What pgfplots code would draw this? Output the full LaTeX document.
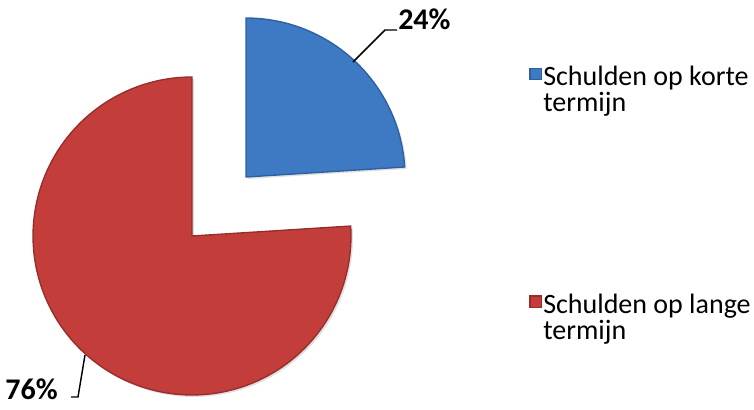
\documentclass[border=0pt]{standalone}
\usepackage{pgfplots}
\pgfplotsset{compat=1.18}
\usepackage{pgfplotstable}
\usepackage{fontspec}
\setmainfont{Carlito}
\definecolor{bluefill}{HTML}{3E79C4}
\definecolor{blueedge}{HTML}{2E5F9F}
\definecolor{redfill}{HTML}{C33E3B}
\definecolor{rededge}{HTML}{962D2A}
\pgfplotstableread{
label value
korte 24
lange 76
}\piedata
\begin{document}%
\begin{tikzpicture}
\pgfplotstablegetelem{0}{value}\of\piedata \let\vA\pgfplotsretval
\pgfplotstablegetelem{1}{value}\of\piedata \let\vB\pgfplotsretval
\pgfmathsetmacro{\aStart}{90}
\pgfmathsetmacro{\aMid}{90-3.6*\vA}
\pgfmathsetmacro{\aEnd}{\aMid-3.6*\vB}
\begin{axis}[
  width=565.5pt, height=307.5pt, scale only axis,
  xmin=0, xmax=754, ymin=0, ymax=410,
  hide axis, clip=false,
  legend style={at={(axis cs:529,346)}, anchor=north west, draw=none, fill=none,
    font=\fontsize{21pt}{20pt}\selectfont, row sep=132.5pt, column sep=0pt,
    cells={align=left, anchor=north west}, nodes={inner sep=1pt}, inner sep=0pt},
  legend image code/.code={\fill[#1] (0pt,-11.5pt) rectangle (8.5pt,-3pt);},
]
\path (axis cs:0,0) rectangle (axis cs:754,410);
% shadows
\addplot[draw=none, fill=black, fill opacity=0.12, domain=\aMid:\aStart, samples=80, forget plot]
  ({248+159*cos(x)},{231+159*sin(x)}) -- (axis cs:248,231) -- cycle;
\addplot[draw=none, fill=black, fill opacity=0.12, domain=\aEnd:\aMid, samples=160, forget plot]
  ({194+159*cos(x)},{172+159*sin(x)}) -- (axis cs:194,172) -- cycle;
% slices
\addplot[draw=blueedge, line width=1pt, fill=bluefill, domain=\aMid:\aStart, samples=80]
  ({246+159*cos(x)},{233+159*sin(x)}) -- (axis cs:246,233) -- cycle;
\addlegendentry{Schulden op korte\\termijn}
\addplot[draw=rededge, line width=1pt, fill=redfill, domain=\aEnd:\aMid, samples=160]
  ({192+159*cos(x)},{174+159*sin(x)}) -- (axis cs:192,174) -- cycle;
\addlegendentry{Schulden op lange\\termijn}
% labels
\draw[line width=1.1pt] (axis cs:353,348) -- (axis cs:385,380) -- (axis cs:397,380);
\node[anchor=base west, inner sep=0pt, font=\fontsize{22.5pt}{22.5pt}\selectfont\bfseries] at (axis cs:398,380) {\vA\%};
\draw[line width=1.1pt] (axis cs:85,55) -- (axis cs:78,13) -- (axis cs:71,13);
\node[anchor=base east, inner sep=0pt, font=\fontsize{22.5pt}{22.5pt}\selectfont\bfseries] at (axis cs:58,10) {\vB\%};
\end{axis}
\end{tikzpicture}%
\end{document}
